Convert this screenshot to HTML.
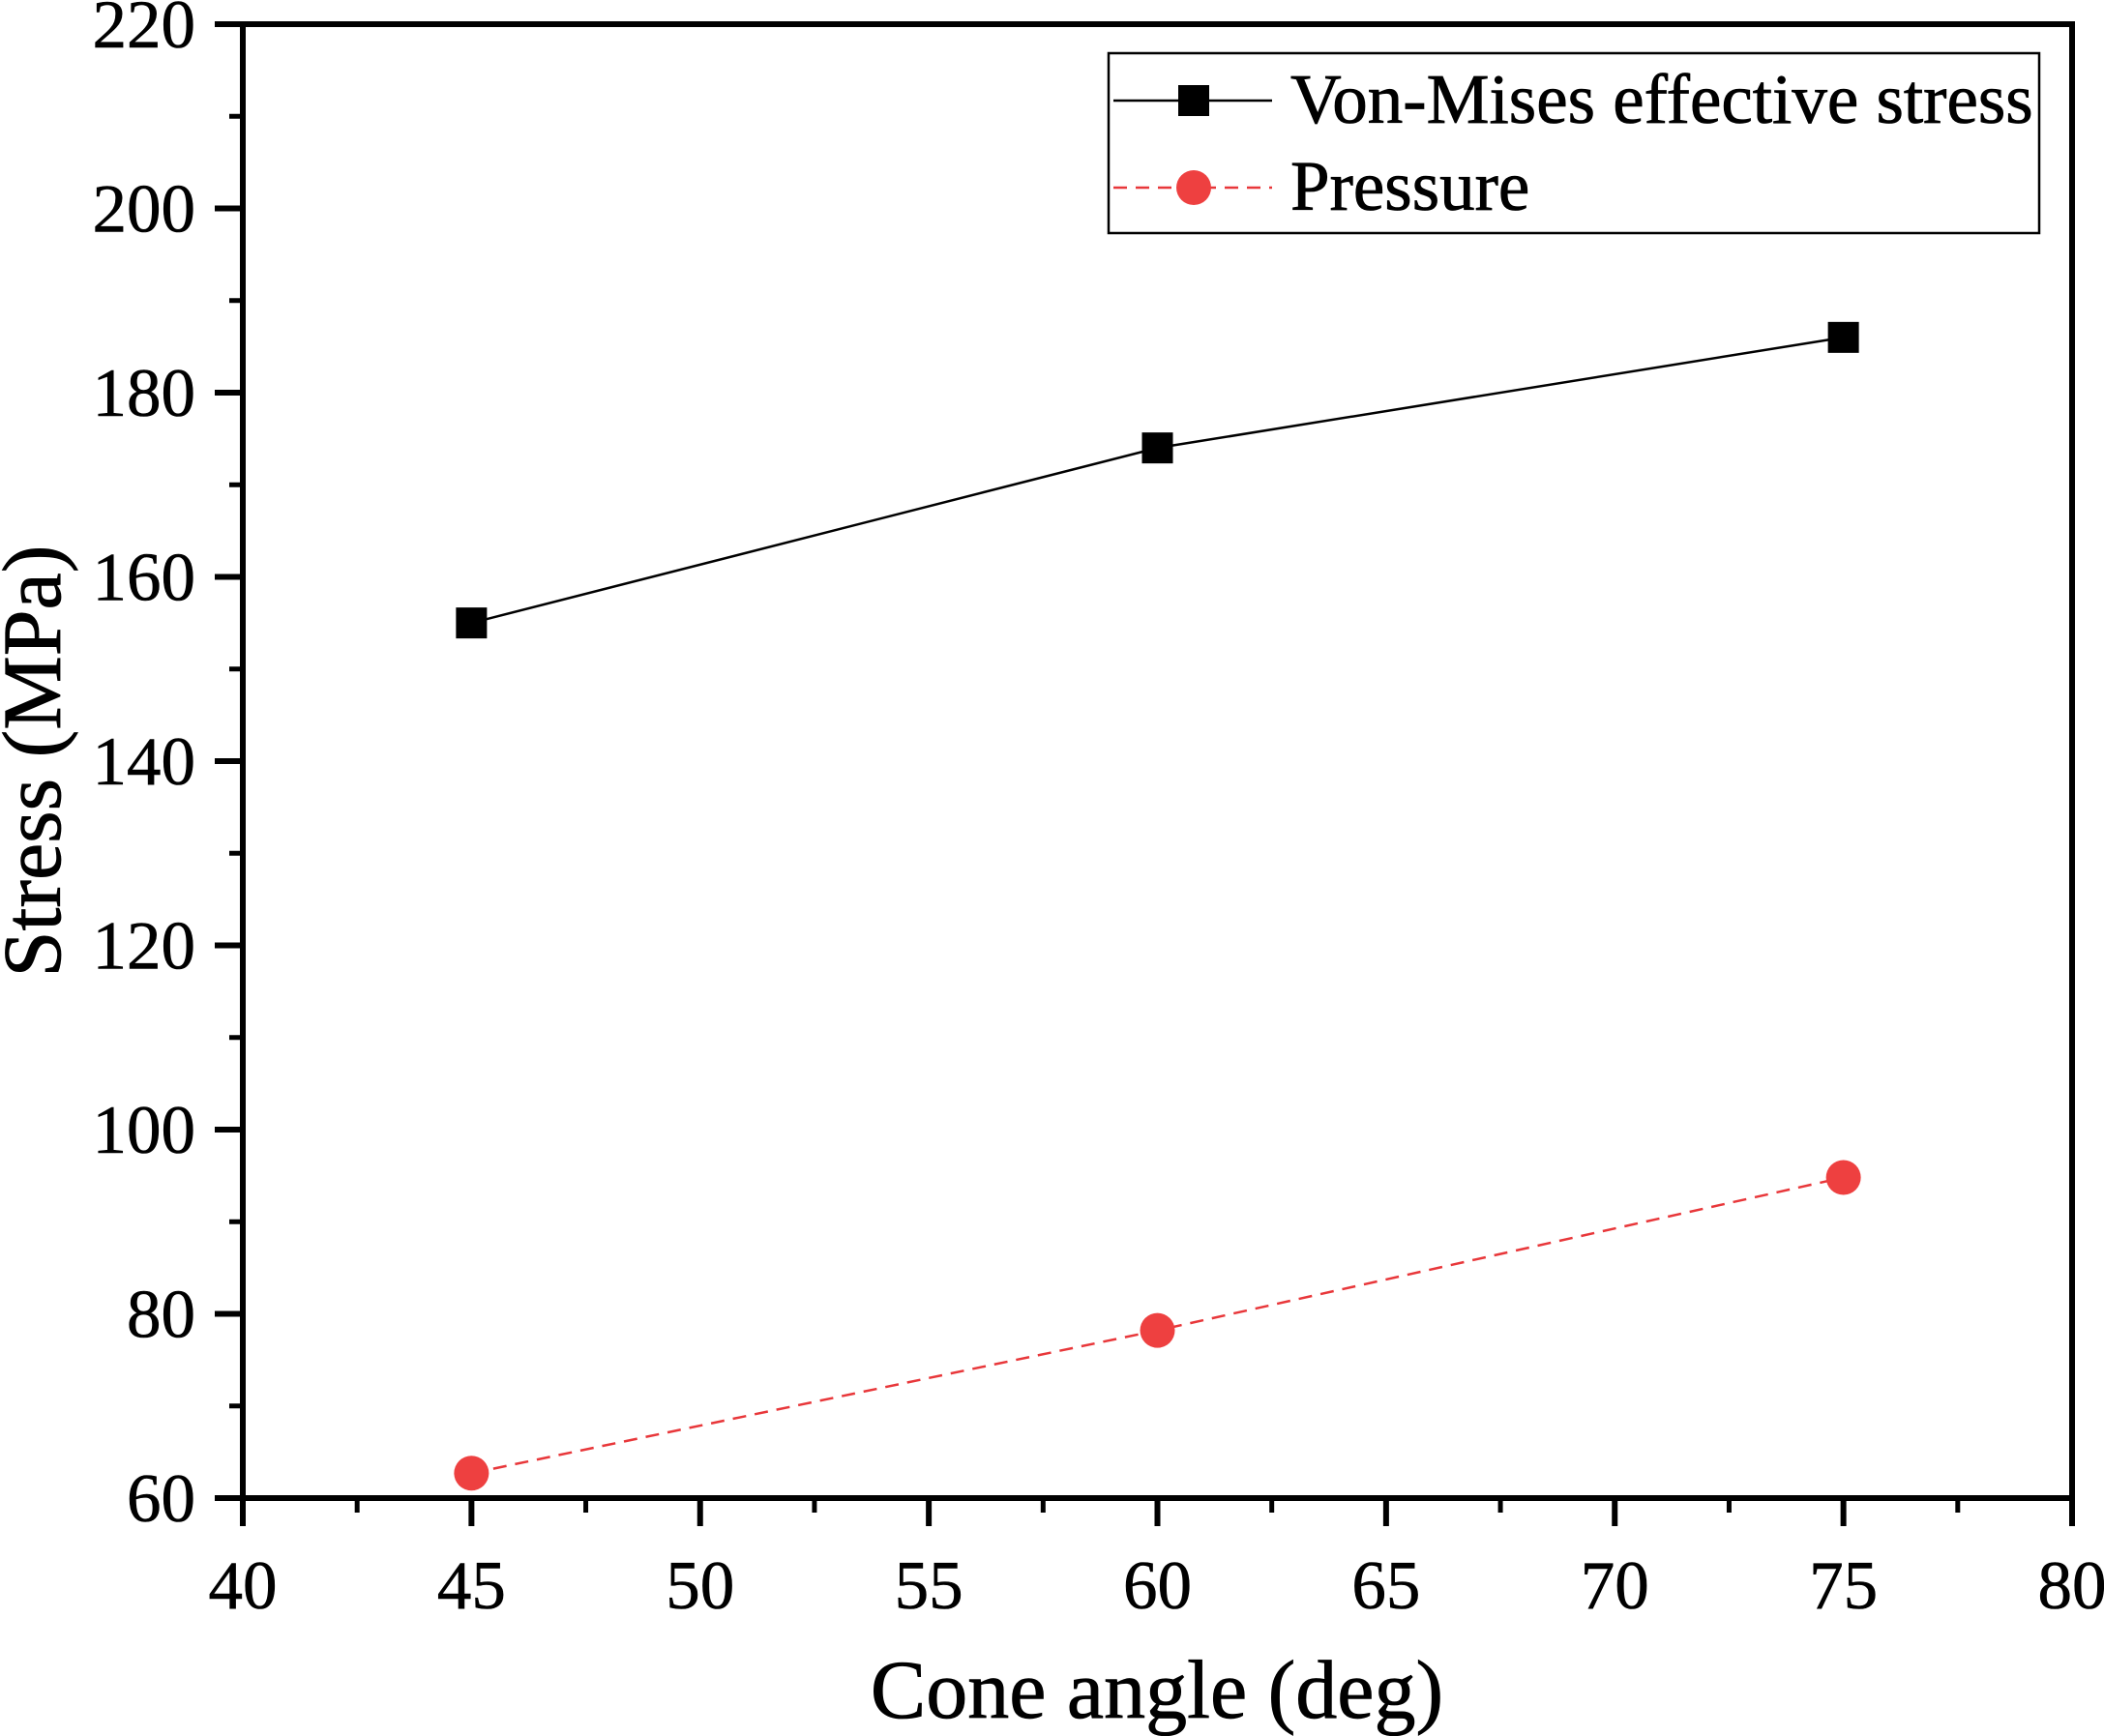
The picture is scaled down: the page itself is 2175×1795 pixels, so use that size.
<!DOCTYPE html>
<html><head><meta charset="utf-8"><style>
html,body{margin:0;padding:0;background:#fff;}
svg{display:block;font-family:"Liberation Serif",serif;}
</style></head><body>
<svg id="chart" width="2175" height="1795" viewBox="0 0 2175 1795">
<g id="axes"></g><g id="series"></g>
<g>
<rect x="1146" y="55" width="962" height="186" fill="#fff" stroke="#000" stroke-width="2.5"/>
<g>
<line x1="1151" y1="104" x2="1315" y2="104" stroke="#000" stroke-width="2.5"/>
<rect x="1218" y="88" width="32" height="32" fill="#000"/>
<text x="1334" y="127" font-size="73" stroke="#000" stroke-width="0.8">Von-Mises effective stress</text>
</g>
<g>
<line x1="1151" y1="194" x2="1315" y2="194" stroke="#e8373a" stroke-width="2.5" stroke-dasharray="14,9"/>
<circle cx="1234" cy="194" r="18" fill="#ee4040"/>
<text x="1334" y="217" font-size="73" stroke="#000" stroke-width="0.8">Pressure</text>
</g>
</g>
<text x="1196" y="1776" font-size="86" text-anchor="middle" stroke="#000" stroke-width="0.8">Cone angle (deg)</text>
<text transform="translate(62,787) rotate(-90)" font-size="86" text-anchor="middle" stroke="#000" stroke-width="0.8">Stress (MPa)</text>
</svg>
<script>
const categories = [45, 60, 75];
const vonMises = [155, 174, 186];
const pressure = [62.7, 78.2, 94.8];
const xTicks = [40, 45, 50, 55, 60, 65, 70, 75, 80];
const yTicks = [60, 80, 100, 120, 140, 160, 180, 200, 220];

const L=251,R=2142,T=25,B=1549;
const xs=v=>L+(v-40)/40*(R-L);
const ys=v=>B-(v-60)/160*(B-T);
const NS="http://www.w3.org/2000/svg";
function mk(tag,attrs,parent){const e=document.createElementNS(NS,tag);for(const k in attrs)e.setAttribute(k,attrs[k]);parent.appendChild(e);return e;}
const ax=document.getElementById('axes'), se=document.getElementById('series');

const frame=mk('rect',{x:L,y:T,width:R-L,height:B-T,fill:'none',stroke:'#000','stroke-width':6},ax);



xTicks.forEach((v,i)=>{
  const x=xs(v);
  const t=mk('line',{x1:x,y1:B,x2:x,y2:B+29,stroke:'#000','stroke-width':6},ax);
  
  
  if(i<xTicks.length-1){
    const m=mk('line',{x1:xs(v+2.5),y1:B,x2:xs(v+2.5),y2:B+15,stroke:'#000','stroke-width':5},ax);
    
    
  }
  const lb=mk('text',{x:x,y:1663,'font-size':71,'text-anchor':'middle',stroke:'#000','stroke-width':0.6},ax);
  lb.textContent=v;
  
  
});
yTicks.forEach((v,i)=>{
  const y=ys(v);
  const t=mk('line',{x1:L-29,y1:y,x2:L,y2:y,stroke:'#000','stroke-width':6},ax);
  
  
  if(i<yTicks.length-1){
    const m=mk('line',{x1:L-14,y1:ys(v+10),x2:L,y2:ys(v+10),stroke:'#000','stroke-width':5},ax);
    
    
  }
  const lb=mk('text',{x:202,y:y+24,'font-size':71,'text-anchor':'end',stroke:'#000','stroke-width':0.6},ax);
  lb.textContent=v;
  
  
});

const vl=mk('polyline',{points:categories.map((c,i)=>xs(c)+','+ys(vonMises[i])).join(' '),fill:'none',stroke:'#000','stroke-width':2.5},se);


const pl=mk('polyline',{points:categories.map((c,i)=>xs(c)+','+ys(pressure[i])).join(' '),fill:'none',stroke:'#e8373a','stroke-width':2.5,'stroke-dasharray':'14,9'},se);


categories.forEach((c,i)=>{
  const s=mk('rect',{x:xs(c)-16,y:ys(vonMises[i])-16,width:32,height:32,fill:'#000'},se);
  
  
  const p=mk('circle',{cx:xs(c),cy:ys(pressure[i]),r:18,fill:'#ee4040'},se);
  
  
});
</script>
</body></html>
